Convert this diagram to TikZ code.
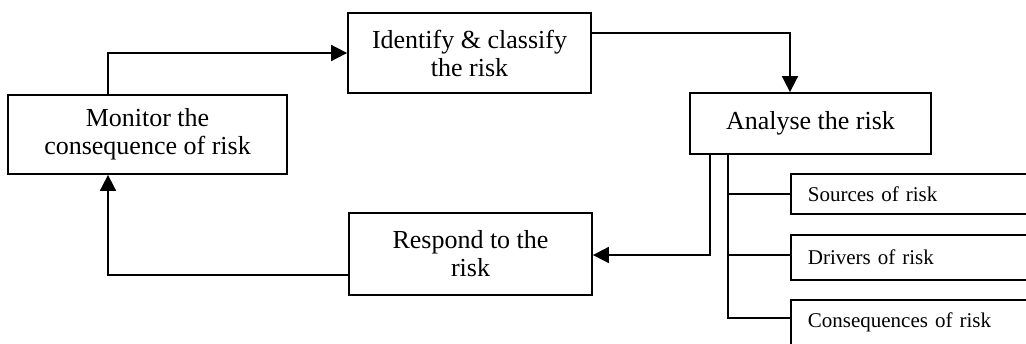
\documentclass[tikz,border=0pt]{standalone}
\usepackage{fontspec}
\setmainfont{Liberation Serif}
\usetikzlibrary{arrows.meta,calc}
\begin{document}
\begin{tikzpicture}[x=1pt,y=-1pt,
  line width=1.8pt,
  stepbox/.style={draw, line width=1.8pt, align=center, inner sep=0pt,
    font=\fontsize{26}{28}\selectfont},
  subbox/.style={draw, line width=1.8pt, anchor=north west, align=left,
    inner xsep=17pt, inner ysep=0pt, minimum width=260pt, text width=226pt,
    font=\fontsize{21}{24}\selectfont},
  flow/.style={-{Triangle[length=16pt,width=16pt]}, line width=1.8pt},
  link/.style={line width=1.8pt}]
\useasboundingbox (0,0) rectangle (1026,343);
\clip (0,0) rectangle (1026,343);

% main cycle steps
\node[stepbox, minimum width=279pt, minimum height=79pt] (mon) at (147.5,134.5)
  {Monitor the\\consequence of risk};
\node[stepbox, minimum width=243pt, minimum height=80pt] (idf) at (469.5,53)
  {Identify \& classify\\the risk};
\node[stepbox, minimum width=241pt, minimum height=61pt] (ana) at (810.5,123.5)
  {Analyse the risk};
\node[stepbox, minimum width=243pt, minimum height=82pt] (res) at (470.5,254)
  {Respond to the\\risk};

% aspects of the analysis
\node[subbox, minimum height=40pt] (src) at (790,173) {Sources of risk};
\node[subbox, minimum height=45pt] (drv) at (790,234) {Drivers of risk};
\node[subbox, minimum height=45pt] (cns) at (790,299) {Consequences of risk};

% cycle connectors
\draw[flow] (mon.north -| 108,0) |- (idf.west);
\draw[flow] (idf.east |- 0,33) -| (ana.north -| 790,0);
\coordinate (outA) at ($(ana.south west)+(21,0)$);
\coordinate (outB) at ($(ana.south west)+(39,0)$);
\draw[flow] (outA) |- (res.east |- 0,255);
\draw[flow] (res.west |- 0,275) -| (mon.south -| 108,0);

% branch to the analysis aspects
\draw[link] (outB) |- (cns.west |- 0,318);
\draw[link] (outB |- src.west) -- (src.west);
\draw[link] (outB |- 0,255) -- (drv.west |- 0,255);
\end{tikzpicture}
\end{document}
